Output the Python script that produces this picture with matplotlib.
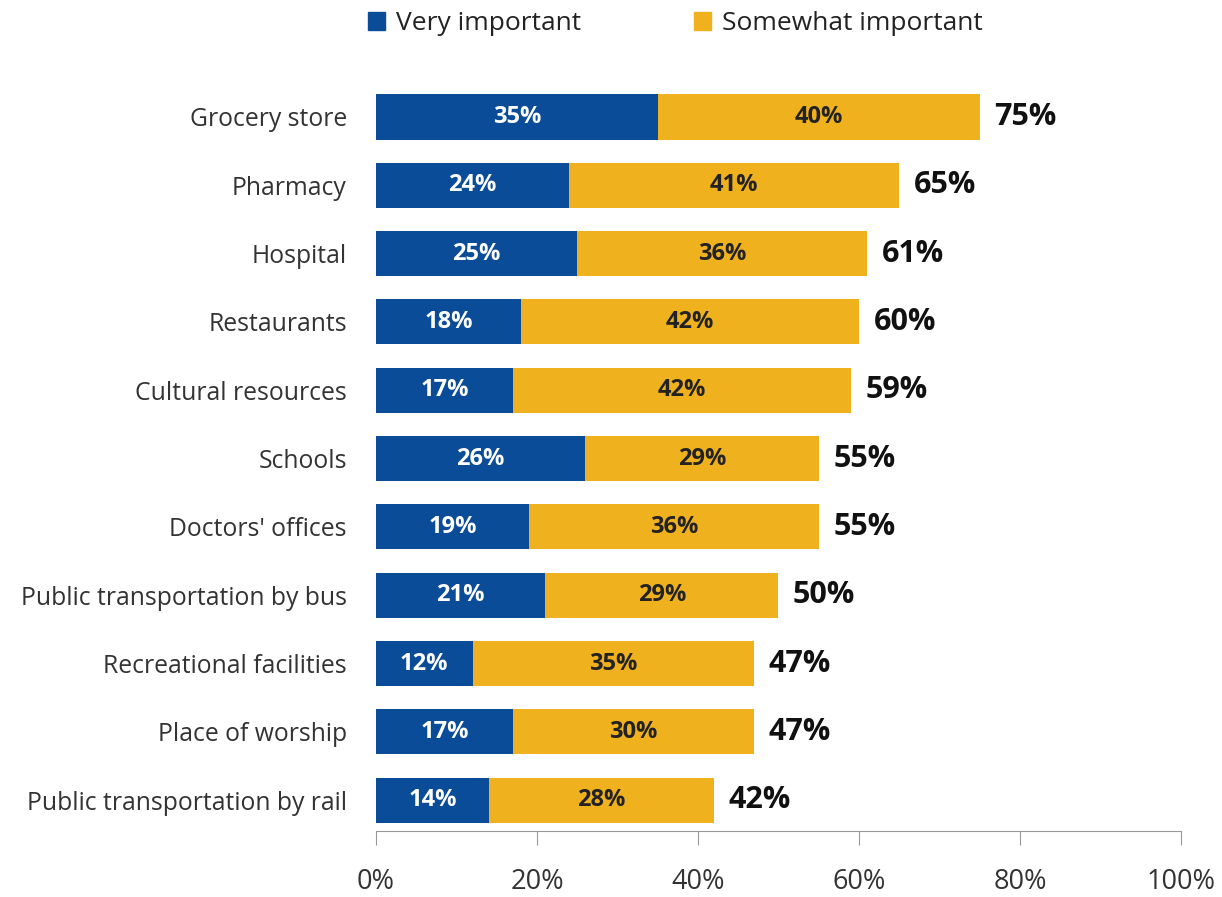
import matplotlib.pyplot as plt
import numpy as np
from matplotlib.patches import Patch

plt.rcParams['font.family'] = ['Open Sans', 'DejaVu Sans']

categories = ["Grocery store", "Pharmacy", "Hospital", "Restaurants",
              "Cultural resources", "Schools", "Doctors' offices",
              "Public transportation by bus", "Recreational facilities",
              "Place of worship", "Public transportation by rail"]
very = [35, 24, 25, 18, 17, 26, 19, 21, 12, 17, 14]
somewhat = [40, 41, 36, 42, 42, 29, 36, 29, 35, 30, 28]
totals = [75, 65, 61, 60, 59, 55, 55, 50, 47, 47, 42]

BLUE = "#0B4C98"
GOLD = "#EFB11E"

fig = plt.figure(figsize=(12.22, 8.97), dpi=100)
ax = fig.add_axes([0.3077, 0.0736, 0.6587, 0.8417])

y = np.arange(len(categories))
h = 0.66
ax.barh(y, very, height=h, color=BLUE)
ax.barh(y, somewhat, left=very, height=h, color=GOLD)

for i in range(len(categories)):
    ax.text(very[i] / 2, y[i], f"{very[i]}%", ha='center', va='center',
            color='white', fontsize=17, fontweight='bold')
    ax.text(very[i] + somewhat[i] / 2, y[i], f"{somewhat[i]}%", ha='center',
            va='center', color='#222222', fontsize=17, fontweight='bold')
    ax.text(totals[i] + 1.8, y[i], f"{totals[i]}%", ha='left', va='center',
            color='#111111', fontsize=22, fontweight='bold')

ax.set_xlim(0, 100)
ax.set_ylim(10.45, -0.6)
ax.set_yticks(y)
ax.set_yticklabels(categories, fontsize=17.8, color='#333333')
ax.tick_params(axis='y', length=0, pad=21)
ax.set_xticks(range(0, 101, 20))
ax.set_xticklabels([f"{v}%" for v in range(0, 101, 20)], fontsize=19.5, color='#333333')
ax.tick_params(axis='x', direction='out', length=10, color='#999999', pad=17)

for s in ['top', 'right', 'left']:
    ax.spines[s].set_visible(False)
ax.spines['bottom'].set_color('#999999')

handles = [Patch(color=BLUE, label="Very important"),
           Patch(color=GOLD, label="Somewhat important")]
fig.legend(handles=handles, loc='center left', bbox_to_anchor=(368 / 1222, 1 - 24 / 897),
           ncol=2, frameon=False, fontsize=19, borderpad=0, borderaxespad=0,
           handlelength=0.65, handleheight=0.65, handletextpad=0.4,
           columnspacing=4.3, labelcolor='#222222')

fig.savefig("out.png", dpi=100)
